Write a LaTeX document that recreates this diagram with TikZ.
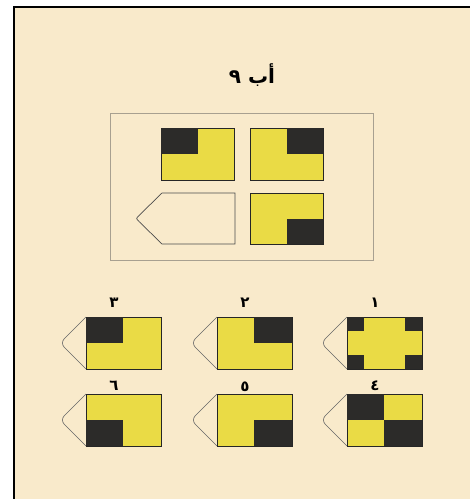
\documentclass[tikz,border=0pt]{standalone}
\usepackage{fontspec}
\newfontfamily\arabicfont[Script=Arabic]{DejaVu Sans}
\TeXXeTstate=1
\definecolor{paper}{HTML}{F9EACB}
\definecolor{cardyellow}{HTML}{EADB45}
\definecolor{cardblack}{HTML}{2C2B29}
\definecolor{framegray}{HTML}{A8A090}

\begin{document}
\begin{tikzpicture}[
  x=1pt, y=-1pt,
  card/.style={draw=black!85, line width=0.8pt, fill=cardyellow},
  patch/.style={fill=cardblack},
  tipline/.style={draw=black!60, line width=0.6pt, rounded corners=6pt},
  digit/.style={font=\arabicfont\bfseries\fontsize{15}{17}\selectfont, inner sep=0pt},
  title/.style={font=\arabicfont\bfseries\fontsize{20}{22}\selectfont, inner sep=0pt}
]
\useasboundingbox (0,0) rectangle (470,499);
\fill[white] (0,0) rectangle (470,499);
\fill[paper] (14,7) rectangle (470,499);
\draw[line width=2pt] (14,499) -- (14,7) -- (470,7);

\node[title] (head) at (252,75) {\beginR أب ٩\endR};

% question frame
\draw[framegray, line width=0.6pt] (110,113) rectangle (373,260);
\draw[card] (161,128) rectangle (234,180);
\fill[patch] (161.4,128.4) rectangle (197.5,154);
\draw[card] (250,128) rectangle (323,180);
\fill[patch] (286.5,128.4) rectangle (322.6,154);
\draw[card] (250,193) rectangle (323,244);
\fill[patch] (286.5,218.5) rectangle (322.6,243.6);
\draw[draw=black!70, line width=0.7pt]
  (235,193) -- (162,193) -- (139,215.5) .. controls (136,218.5) .. (139,221.5)
  -- (162,244) -- (235,244) -- cycle;

% answer cards
\foreach \name/\x/\y/\num/\dy in {1/347/317/١/14, 2/217/317/٢/14, 3/86/317/٣/14,
                                  4/347/394/٤/8, 5/217/394/٥/7, 6/86/394/٦/8} {
  \draw[tipline] (\x,\y) -- (\x-26,\y+26) -- (\x,\y+52);
  \draw[card] (\x,\y) rectangle (\x+75,\y+52);
  \node[digit] (lbl\name) at (\x+28,\y-\dy) {\beginR\num\endR};
}

% option 1
\fill[patch] (347.4,317.4) rectangle (364,331);
\fill[patch] (405,317.4) rectangle (421.6,331);
\fill[patch] (347.4,355) rectangle (364,368.6);
\fill[patch] (405,355) rectangle (421.6,368.6);
% option 2
\fill[patch] (254,317.4) rectangle (291.6,343);
% option 3
\fill[patch] (86.4,317.4) rectangle (123,343);
% option 4
\fill[patch] (347.4,394.4) rectangle (384,420);
\fill[patch] (384,420) rectangle (421.6,445.6);
% option 5
\fill[patch] (254,420) rectangle (291.6,445.6);
% option 6
\fill[patch] (86.4,420) rectangle (123,445.6);

\end{tikzpicture}
\end{document}
